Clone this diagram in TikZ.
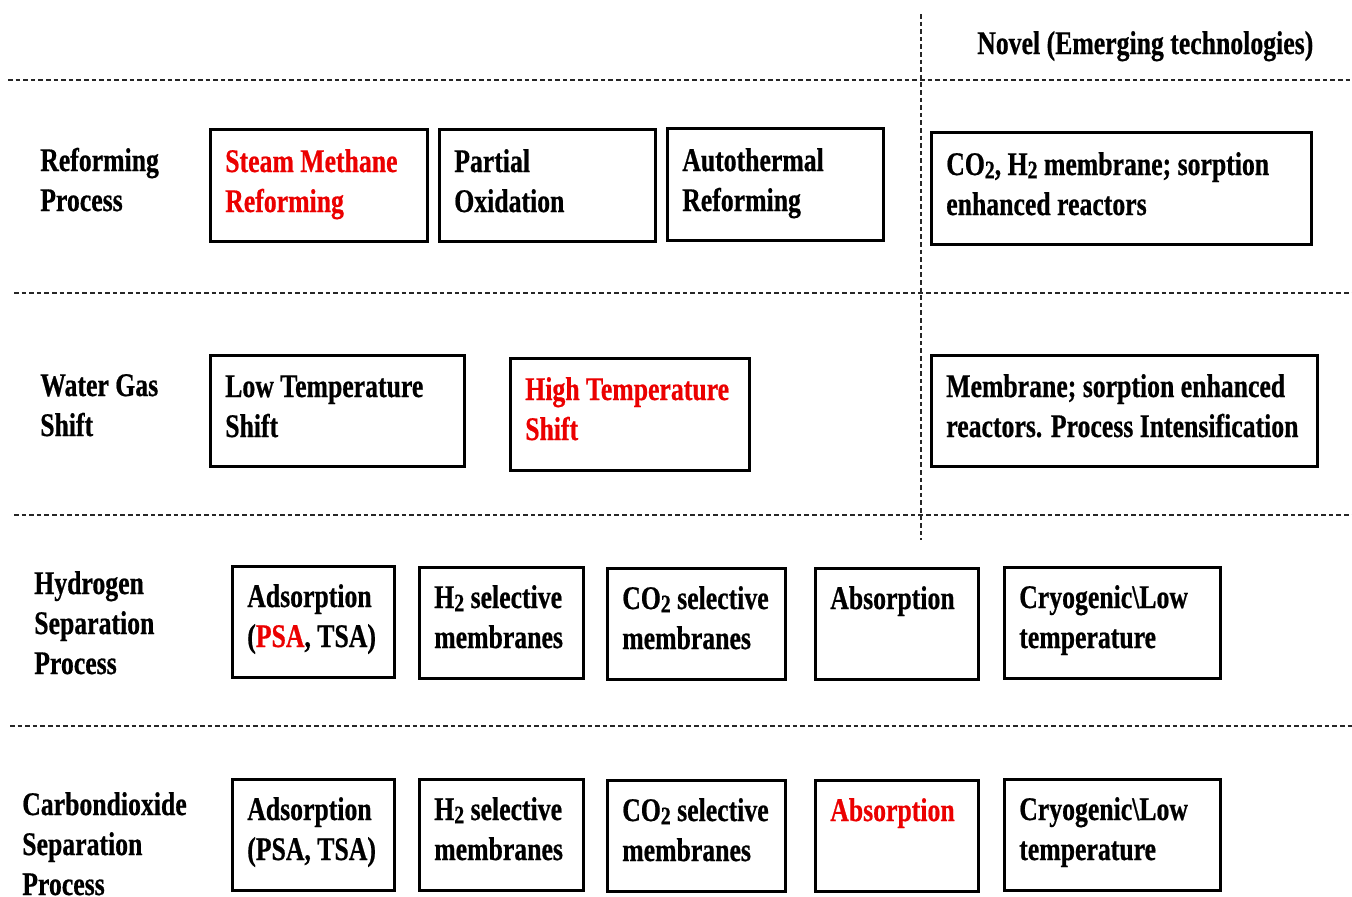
\documentclass[tikz,border=0pt]{standalone}
\usepackage{fontspec}
\setmainfont{Liberation Serif}[FakeStretch=0.78, BoldFeatures={FakeBold=0.6}]
\usetikzlibrary{fit}
\definecolor{hl}{RGB}{235,0,0}
% lowered, slightly smaller subscript digit
\newcommand\sbs[1]{\raisebox{-0.22ex}{\fontsize{19}{19}\selectfont #1}}
\newcommand\rd[1]{\textcolor{hl}{#1}}
% boxed entry: name, x1, y1, x2, y2, baseline offset, text
\newcommand\tbox[7]{%
  \path (#2,#3) coordinate (#1-nw) (#4,#5) coordinate (#1-se);
  \node[cellbox, fit=(#1-nw)(#1-se)] (#1) {};
  \node[celltext] (#1-t) at ({#2+15},{#3+#6}) {\begin{tabular}[t]{@{}l@{}}#7\end{tabular}};}
\newcommand\rowlabel[4]{%
  \node[celltext] (#1) at (#2,#3) {\begin{tabular}[t]{@{}l@{}}#4\end{tabular}};}
\begin{document}
\begin{tikzpicture}[x=0.75pt,y=-0.75pt,
  cellbox/.style={draw=black, line width=2.25pt, inner sep=0pt},
  celltext/.style={anchor=base west, inner sep=0pt, font=\fontsize{24.75}{30}\selectfont\bfseries},
  divider/.style={draw=black!85, line width=0.8pt, dash pattern=on 3.5pt off 2.2pt}]
\useasboundingbox (0,0) rectangle (1352,896);

% grid lines
\coordinate (v-top) at (921,14);
\coordinate (v-bot) at (921,540);
\draw[divider] (v-top) -- (v-bot);
\coordinate (h1-l) at (8,80);   \coordinate (h1-r) at (1352,80);
\coordinate (h2-l) at (14,293); \coordinate (h2-r) at (1352,293);
\coordinate (h3-l) at (14,515); \coordinate (h3-r) at (1352,515);
\coordinate (h4-l) at (10,726); \coordinate (h4-r) at (1352,726);
\draw[divider] (h1-l) -- (h1-r);
\draw[divider] (h2-l) -- (h2-r);
\draw[divider] (h3-l) -- (h3-r);
\draw[divider] (h4-l) -- (h4-r);

% heading
\node[celltext] (novel) at (977,54) {Novel (Emerging technologies)};

% row labels
\rowlabel{lab-ref}{40}{171}{Reforming\\Process}
\rowlabel{lab-wgs}{40}{396}{Water Gas\\Shift}
\rowlabel{lab-hsep}{34}{594}{Hydrogen\\Separation\\Process}
\rowlabel{lab-csep}{22}{815}{Carbondioxide\\Separation\\Process}

% reforming
\tbox{smr}{210}{129}{427}{241}{43}{\rd{Steam Methane}\\\rd{Reforming}}
\tbox{pox}{439}{129}{655}{241}{43}{Partial\\Oxidation}
\tbox{atr}{667}{128}{883}{240}{43}{Autothermal\\Reforming}
\tbox{refnew}{931}{132}{1311}{244}{43}{CO\sbs{2}, H\sbs{2} membrane; sorption\\enhanced reactors}

% water gas shift
\tbox{lts}{210}{355}{464}{466}{42}{Low Temperature\\Shift}
\tbox{hts}{510}{358}{749}{470}{42}{\rd{High Temperature}\\\rd{Shift}}
\tbox{wgsnew}{931}{355}{1317}{466}{42}{Membrane; sorption enhanced\\reactors. Process Intensification}

% hydrogen separation
\tbox{hads}{232}{566}{394}{677}{41}{Adsorption\\(\rd{PSA}, TSA)}
\tbox{hhm}{419}{567}{583}{678}{41}{H\sbs{2} selective\\membranes}
\tbox{hcm}{607}{568}{785}{679}{41}{CO\sbs{2} selective\\membranes}
\tbox{habs}{815}{568}{978}{679}{41}{Absorption}
\tbox{hcryo}{1004}{567}{1220}{678}{41}{Cryogenic\textbackslash Low\\temperature}

% carbon dioxide separation
\tbox{cads}{232}{779}{394}{890}{41}{Adsorption\\(PSA, TSA)}
\tbox{chm}{419}{779}{583}{890}{41}{H\sbs{2} selective\\membranes}
\tbox{ccm}{607}{780}{785}{891}{41}{CO\sbs{2} selective\\membranes}
\tbox{cabs}{815}{780}{978}{891}{41}{\rd{Absorption}}
\tbox{ccryo}{1004}{779}{1220}{890}{41}{Cryogenic\textbackslash Low\\temperature}
\end{tikzpicture}
\end{document}
